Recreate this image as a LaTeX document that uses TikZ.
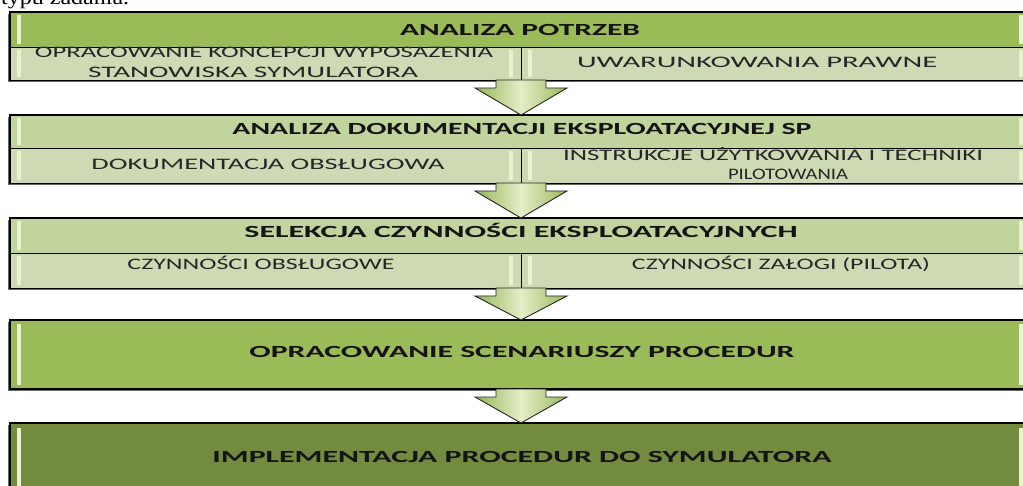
\documentclass[tikz,border=0pt]{standalone}
\usepackage{fontspec}
\setmainfont{Liberation Serif}
\newfontfamily\cf{Carlito}
\usetikzlibrary{shadows,calc}
\definecolor{hdA}{HTML}{9BBB59}
\definecolor{hdB}{HTML}{C2D49D}
\definecolor{subC}{HTML}{CDDAB4}
\definecolor{hdD}{HTML}{738B3F}
\definecolor{glossC}{HTML}{EAF2CF}
\definecolor{arL}{HTML}{96B657}
\definecolor{arM}{HTML}{E4EEC8}
\definecolor{arR}{HTML}{98B85A}
\newcommand\fitw[2]{\resizebox{#1}{\height}{#2}}
\tikzset{
  blk/.style={draw=black, line width=1.3pt, anchor=north west, inner sep=0pt, outer sep=0pt,
    drop shadow={shadow xshift=-1.8pt, shadow yshift=-1.8pt, fill=black!60, opacity=1}},
  cell/.style={draw=black, line width=0.9pt, anchor=north west, inner sep=0pt, outer sep=0pt},
  gloss/.style={fill=glossC},
  hdtxt/.style={anchor=base, inner sep=0pt, text=black!92, font=\cf\bfseries\fontsize{17}{17}\selectfont},
  subtxt/.style={anchor=base, inner sep=0pt, text=black!85, font=\cf\fontsize{16}{16}\selectfont},
  barrow/.style={draw=black!85, line width=0.9pt, left color=arL, right color=arR, middle color=arM},
}
\newcommand\glossbar[3]{\fill[gloss] (#1,#2) rectangle ++(4,#3);}
\begin{document}
\begin{tikzpicture}[x=1pt,y=-1pt]
\useasboundingbox (0,0) rectangle (1023,486);
\clip (0,0) rectangle (1023,486);
% caption fragment
\node[anchor=base west, inner sep=0pt, font=\fontsize{20}{20}\selectfont] (cap) at (1,5) {\fitw{128pt}{typu zadania.}};
% ---------- block 1
\node[blk, fill=subC, minimum width=1020pt, minimum height=68pt] (b1) at (10,12) {};
\node[cell, fill=hdA, minimum width=1020pt, minimum height=35pt] (h1) at (10,12) {};
\node[cell, fill=subC, minimum width=511pt, minimum height=33pt] (l1) at (10,47) {};
\node[cell, fill=subC, minimum width=509pt, minimum height=33pt] (r1) at (521,47) {};
\glossbar{17}{15}{29}\glossbar{1019}{15}{29}
\glossbar{17}{50}{27}\glossbar{509}{50}{27}\glossbar{528}{50}{27}\glossbar{1019}{50}{27}
\node[hdtxt] (t1) at (520,36) {\fitw{240pt}{ANALIZA POTRZEB}};
\node[subtxt] (t1a) at (264,58) {\fitw{458pt}{OPRACOWANIE KONCEPCJI WYPOSAZENIA}};
\node[subtxt] (t1b) at (253,78) {\fitw{330pt}{STANOWISKA SYMULATORA}};
\node[subtxt] (t1c) at (757,68) {\fitw{360pt}{UWARUNKOWANIA PRAWNE}};
% ---------- block 2
\node[blk, fill=subC, minimum width=1020pt, minimum height=68pt] (b2) at (10,115) {};
\node[cell, fill=hdB, minimum width=1020pt, minimum height=33pt] (h2) at (10,115) {};
\node[cell, fill=subC, minimum width=511pt, minimum height=35pt] (l2) at (10,148) {};
\node[cell, fill=subC, minimum width=509pt, minimum height=35pt] (r2) at (521,148) {};
\glossbar{17}{118}{27}\glossbar{1019}{118}{27}
\glossbar{17}{151}{29}\glossbar{509}{151}{29}\glossbar{528}{151}{29}\glossbar{1019}{151}{29}
\node[hdtxt] (t2) at (522,135) {\fitw{579pt}{ANALIZA DOKUMENTACJI EKSPLOATACYJNEJ SP}};
\node[subtxt] (t2a) at (268,170) {\fitw{353pt}{DOKUMENTACJA OBSŁUGOWA}};
\node[subtxt] (t2b) at (773,161) {\fitw{420pt}{INSTRUKCJE UŻYTKOWANIA I TECHNIKI}};
\node[subtxt] (t2c) at (788,180) {\fitw{120pt}{PILOTOWANIA}};
% ---------- block 3
\node[blk, fill=subC, minimum width=1020pt, minimum height=70pt] (b3) at (10,218) {};
\node[cell, fill=hdB, minimum width=1020pt, minimum height=35pt] (h3) at (10,218) {};
\node[cell, fill=subC, minimum width=511pt, minimum height=35pt] (l3) at (10,253) {};
\node[cell, fill=subC, minimum width=509pt, minimum height=35pt] (r3) at (521,253) {};
\glossbar{17}{221}{29}\glossbar{1019}{221}{29}
\glossbar{17}{256}{29}\glossbar{509}{256}{29}\glossbar{528}{256}{29}\glossbar{1019}{256}{29}
\node[hdtxt] (t3) at (521,238) {\fitw{553pt}{SELEKCJA CZYNNOŚCI EKSPLOATACYJNYCH}};
\node[subtxt] (t3a) at (261,270) {\fitw{267pt}{CZYNNOŚCI OBSŁUGOWE}};
\node[subtxt] (t3b) at (781,270) {\fitw{298pt}{CZYNNOŚCI ZAŁOGI (PILOTA)}};
% ---------- block 4
\node[blk, fill=hdA, minimum width=1020pt, minimum height=69pt] (b4) at (10,320) {};
\glossbar{17}{324}{61}\glossbar{1019}{324}{61}
\node[hdtxt] (t4) at (522,358) {\fitw{545pt}{OPRACOWANIE SCENARIUSZY PROCEDUR}};
% ---------- block 5
\node[blk, fill=hdD, minimum width=1020pt, minimum height=80pt] (b5) at (10,423) {};
\glossbar{17}{428}{70}\glossbar{1019}{428}{70}
\node[hdtxt] (t5) at (522,462) {\fitw{619pt}{IMPLEMENTACJA PROCEDUR DO SYMULATORA}};
% ---------- arrows
\foreach \a/\b in {b1/b2, b2/b3, b3/b4, b4/b5}{
  \path[barrow] let \p1=([xshift=1pt]\a.south), \p2=([xshift=1pt]\b.north) in
    (\x1-25pt,\y1) -- (\x1+25pt,\y1) -- (\x1+25pt,\y1-8pt) -- (\x1+46pt,\y1-8pt)
    -- (\x2,\y2) -- (\x1-46pt,\y1-8pt) -- (\x1-25pt,\y1-8pt) -- cycle;
}
\end{tikzpicture}
\end{document}
